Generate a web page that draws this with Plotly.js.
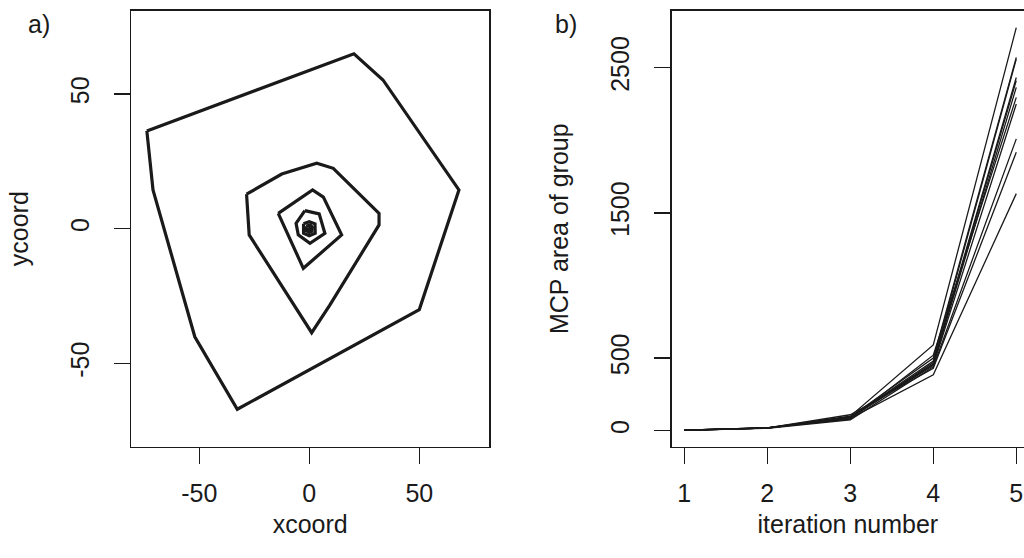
<!DOCTYPE html>
<html>
<head>
<meta charset="utf-8">
<script src="https://cdn.plot.ly/plotly-3.0.1.min.js"></script>
<style>html,body{margin:0;padding:0;background:#fff;}#chart{width:1024px;height:558px;}</style>
</head>
<body>
<div id="chart"></div>
<script>
// ---- Panel a) : nested MCP contours (x, y coordinates) ----
const ring1X = [-73.8, -71.0, -52.0, -32.7, 50.0, 68.0, 33.5, 20.3, -73.8];
const ring1Y = [36.3, 14.4, -40.1, -67.0, -30.0, 14.4, 55.2, 64.9, 36.3];
const ring2X = [-28.5, -27.3, 1.1, 9.4, 31.7, 31.7, 10.9, 3.4, -12.5, -28.5];
const ring2Y = [12.8, -2.3, -38.6, -28.3, 1.4, 5.7, 22.4, 24.3, 20.3, 12.8];
const ring3X = [-14.1, 1.5, 6.4, 14.7, -2.7, -14.1];
const ring3Y = [5.7, 14.4, 11.7, -2.3, -14.7, 5.7];
const ring4X = [-2.0, 4.5, 7.1, 0.3, -5.0, -6.0, -2.0];
const ring4Y = [6.7, 5.5, -1.7, -5.4, -2.3, 2.0, 6.7];
const ring5X = [-2.6, 0.0, 2.6, 2.7, 0.0, -2.6, -2.6];
const ring5Y = [1.8, 2.6, 1.8, -1.7, -2.6, -1.7, 1.8];
const ring6X = [-1.4, 0.4, 1.4, 1.2, 0.0, -1.3, -1.4];
const ring6Y = [0.9, 1.4, 0.5, -0.9, -1.4, -0.8, 0.9];
const ring7X = [-0.5, 0.5, 0.4, -0.5, -0.5];
const ring7Y = [0.3, 0.3, -0.4, -0.4, 0.3];
const xTicksA = [-50, 0, 50];
const yTicksA = [-50, 0, 50];

// ---- Panel b) : MCP area per iteration ----
const iteration = [1, 2, 3, 4, 5];
const area1  = [4, 20, 100, 591, 2777];
const area2  = [4, 19, 95, 500, 2571];
const area3  = [3, 18, 90, 480, 2560];
const area4  = [4, 20, 85, 470, 2433];
const area5  = [3, 18, 95, 460, 2411];
const area6  = [4, 20, 90, 455, 2365];
const area7  = [3, 19, 80, 520, 2296];
const area8  = [4, 18, 88, 450, 2250];
const area9  = [3, 17, 75, 440, 2010];
const area10 = [4, 20, 110, 430, 1918];
const area11 = [3, 18, 85, 385, 1633];
const yTicksB = [0, 500, 1500, 2500];

const FONT = 'Liberation Sans, Arial, Helvetica, sans-serif';
const INK = '#1a1a1a';
const FS = 25;

const rings = [[ring1X, ring1Y], [ring2X, ring2Y], [ring3X, ring3Y], [ring4X, ring4Y],
               [ring5X, ring5Y], [ring6X, ring6Y], [ring7X, ring7Y]];
const areas = [area1, area2, area3, area4, area5, area6, area7, area8, area9, area10, area11];

const traces = [];
rings.forEach(r => traces.push({
  x: r[0], y: r[1], type: 'scatter', mode: 'lines', xaxis: 'x', yaxis: 'y',
  line: {color: INK, width: 3.2}, hoverinfo: 'skip', showlegend: false
}));
areas.forEach(a => traces.push({
  x: iteration, y: a, type: 'scatter', mode: 'lines', xaxis: 'x2', yaxis: 'y2',
  line: {color: INK, width: 1.3}, hoverinfo: 'skip', showlegend: false
}));

const H = 558, W = 1024;
const axCommon = {
  showgrid: false, zeroline: false, showline: true, linecolor: INK, linewidth: 1.4,
  ticks: 'outside', ticklen: 16, tickwidth: 1.4, tickcolor: INK,
  tickfont: {family: FONT, size: FS, color: INK}, automargin: false, fixedrange: true
};
const tFont = {family: FONT, size: FS, color: INK};

const layout = {
  width: W, height: H,
  margin: {l: 0, r: 0, t: 0, b: 0},
  paper_bgcolor: '#fff', plot_bgcolor: '#fff',
  showlegend: false,
  xaxis: Object.assign({}, axCommon, {
    domain: [131 / W, 489.3 / W], range: [-81.0, 81.8], mirror: true,
    tickvals: xTicksA, ticktext: xTicksA.map(String), ticklabelstandoff: 8,
    title: {text: 'xcoord', font: tFont, standoff: 9},
    anchor: 'y'
  }),
  yaxis: Object.assign({}, axCommon, {
    domain: [1 - 446.7 / H, 1 - 10.7 / H], range: [-80.9, 80.9], mirror: true,
    tickvals: yTicksA, ticktext: yTicksA.map(String), tickangle: -90, ticklabelstandoff: 15,
    title: {text: 'ycoord', font: tFont, standoff: 30},
    anchor: 'x'
  }),
  xaxis2: Object.assign({}, axCommon, {
    domain: [671.7 / W, 1], range: [0.848, 5.093], mirror: true,
    tickvals: iteration, ticktext: iteration.map(String), ticklabelstandoff: 8,
    title: {text: 'iteration number', font: tFont, standoff: 9},
    anchor: 'y2'
  }),
  yaxis2: Object.assign({}, axCommon, {
    domain: [1 - 446.7 / H, 1 - 10.7 / H], range: [-110, 2893], mirror: false,
    tickvals: yTicksB, ticktext: yTicksB.map(String), tickangle: -90, ticklabelstandoff: 15,
    title: {text: 'MCP area of group', font: tFont, standoff: 30},
    anchor: 'x2'
  }),
  annotations: [
    {text: 'a)', xref: 'paper', yref: 'paper', x: 26 / W, y: 1 - 24 / H, xanchor: 'left', yanchor: 'middle',
     showarrow: false, font: tFont},
    {text: 'b)', xref: 'paper', yref: 'paper', x: 553 / W, y: 1 - 24 / H, xanchor: 'left', yanchor: 'middle',
     showarrow: false, font: tFont}
  ]
};

Plotly.newPlot('chart', traces, layout, {displayModeBar: false, staticPlot: true});
</script>
</body>
</html>
